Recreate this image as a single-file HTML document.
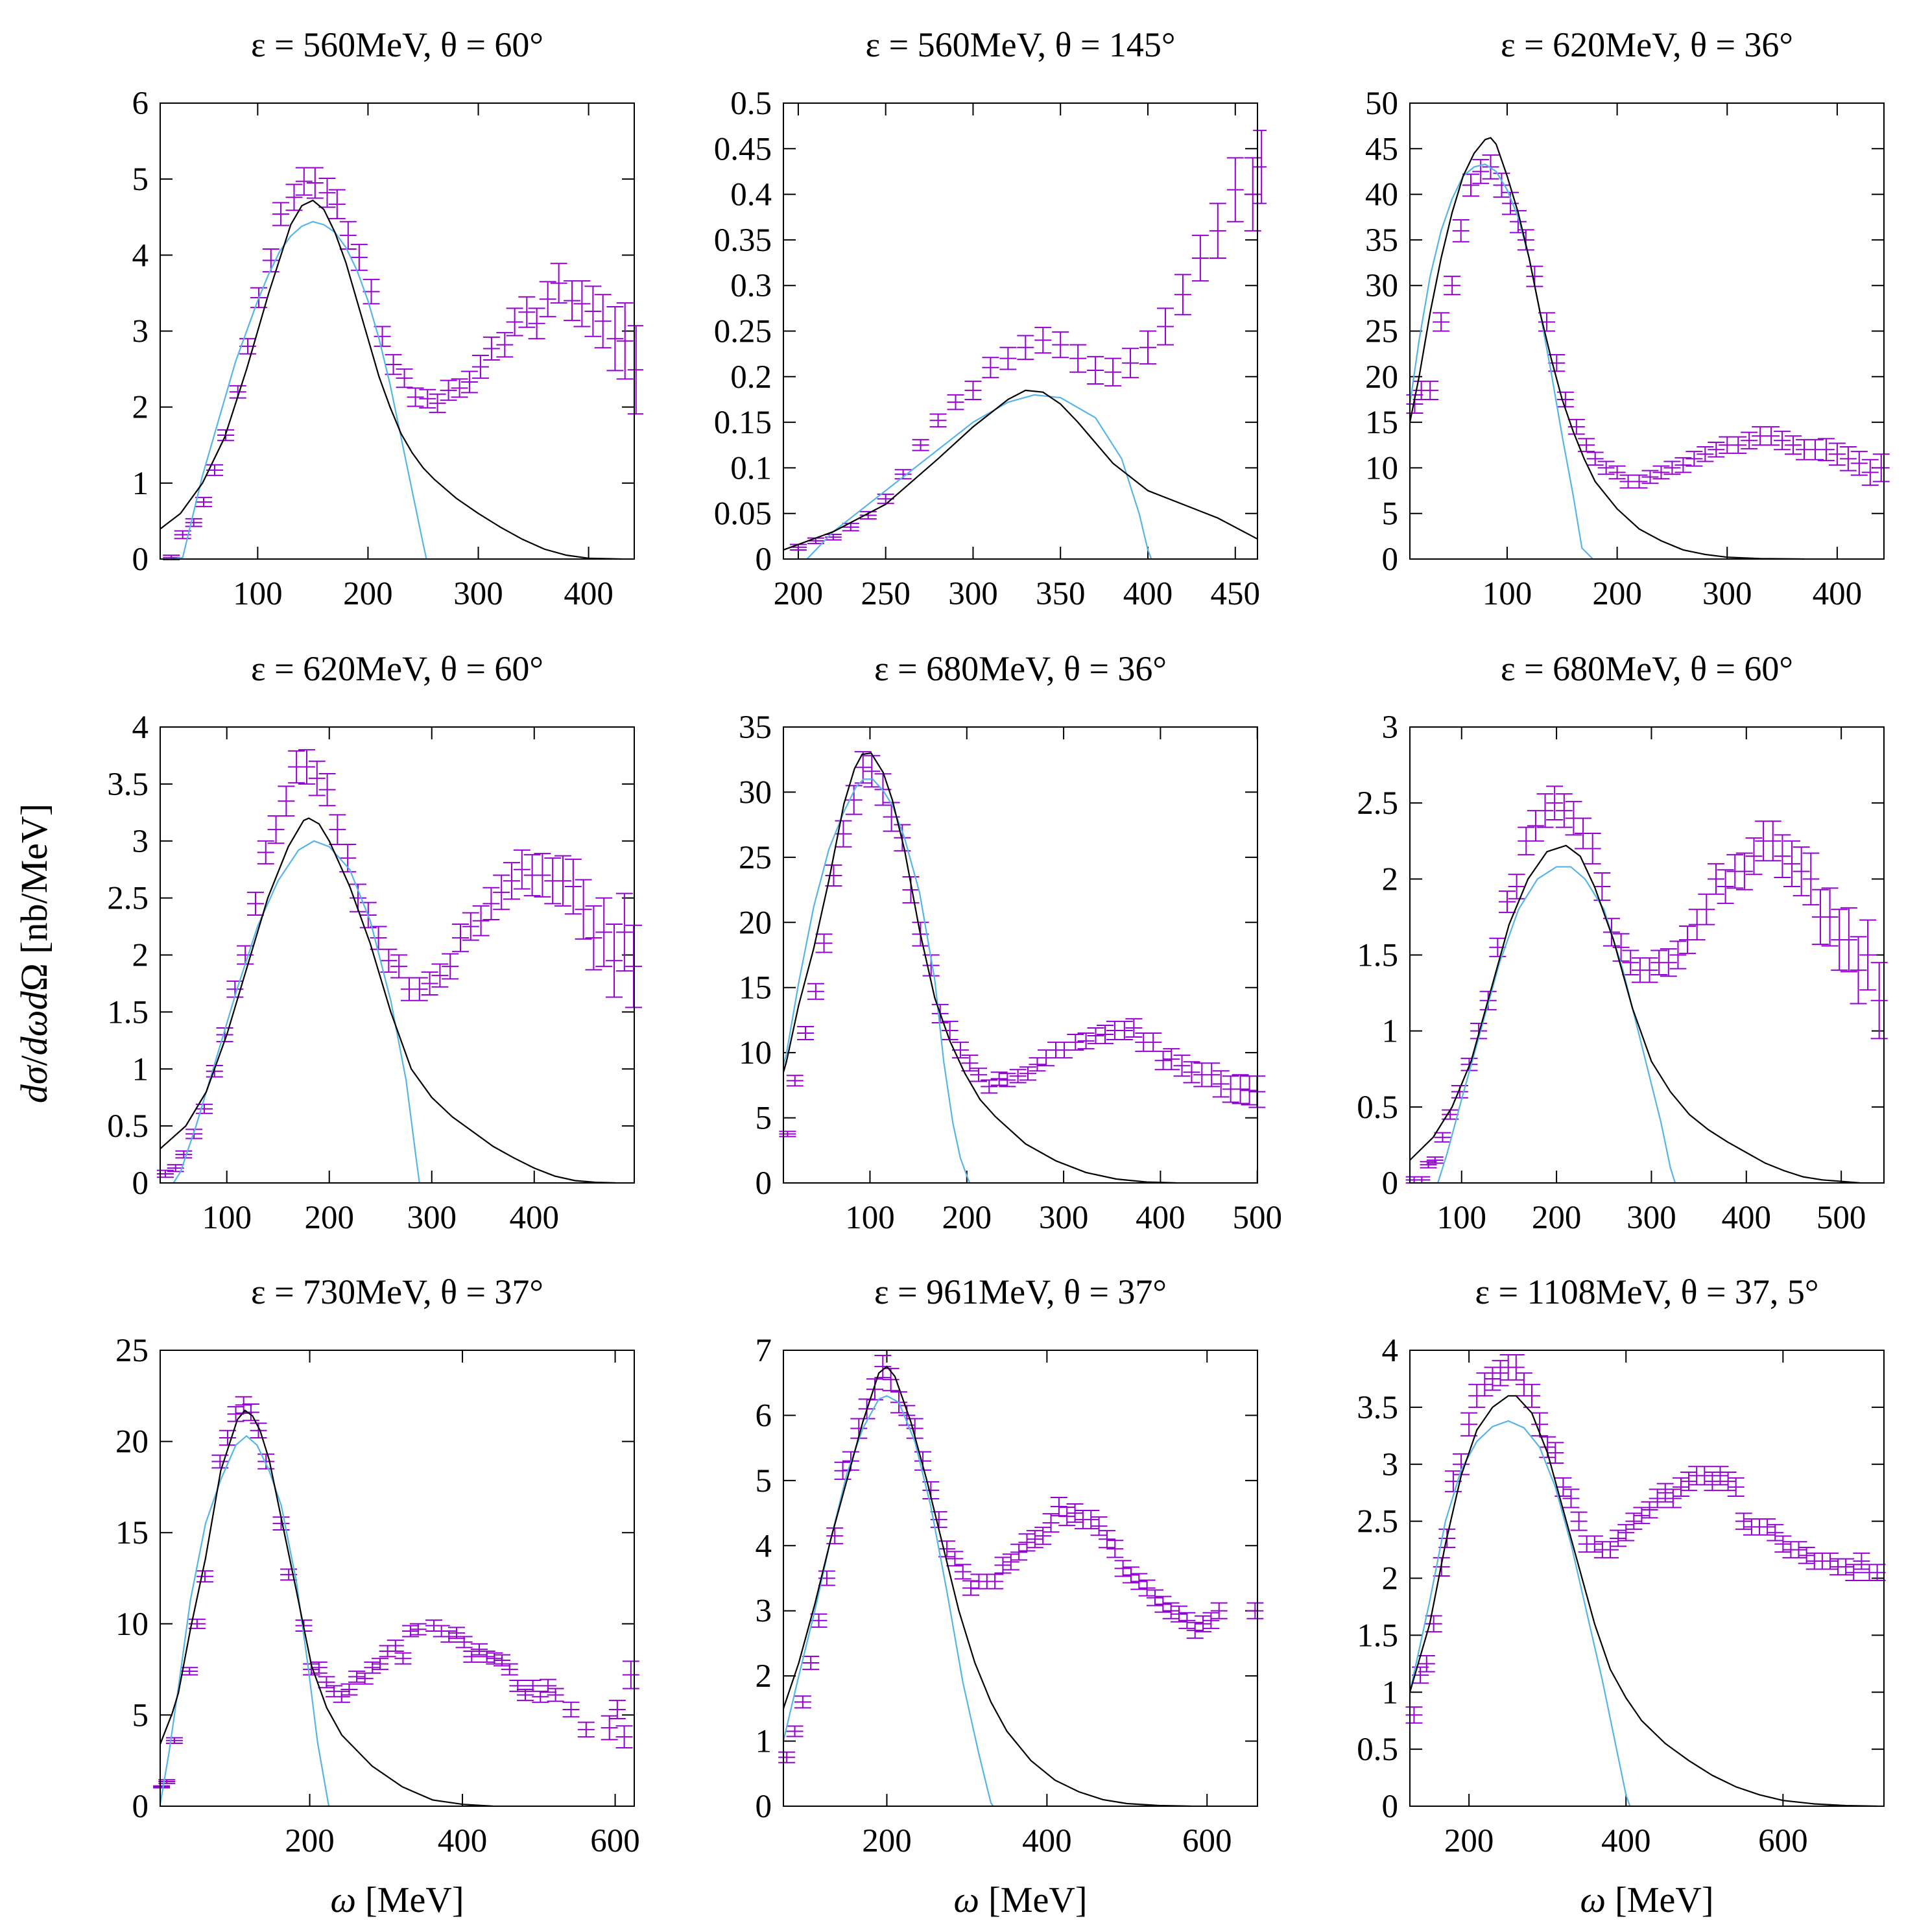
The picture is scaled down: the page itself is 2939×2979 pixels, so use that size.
<!DOCTYPE html>
<html><head><meta charset="utf-8"><style>
html,body{margin:0;padding:0;background:#fff;}
svg{display:block;font-family:"Liberation Serif",serif;}
</style></head><body>
<svg id="chart" width="2939" height="2979" viewBox="0 0 2939 2979" xmlns="http://www.w3.org/2000/svg">
<rect x="0" y="0" width="2939" height="2979" fill="#fff"/>
<text x="0" y="0" transform="translate(72,1470) rotate(-90)" text-anchor="middle" font-size="58" font-family="Liberation Serif,serif"><tspan font-style="italic">dσ</tspan>/<tspan font-style="italic">dωd</tspan>Ω [nb/MeV]</text>
</svg>
<script>
// ---- data (x = omega MeV, y = dsigma, e = error) ----
const titles = ["ε = 560MeV, θ = 60°","ε = 560MeV, θ = 145°","ε = 620MeV, θ = 36°","ε = 620MeV, θ = 60°","ε = 680MeV, θ = 36°","ε = 680MeV, θ = 60°","ε = 730MeV, θ = 37°","ε = 961MeV, θ = 37°","ε = 1108MeV, θ = 37, 5°"];
const xRanges = [[11.6,441.4],[191.5,462.7],[11.6,442.5],[35,497.6],[10.6,500.2],[45.5,545],[4.2,625],[70.8,663],[124.7,728.6]];
const yMax = [6,0.5,50,4,35,3,25,7,4];
const xTicks = [[100,200,300,400],[200,250,300,350,400,450],[100,200,300,400],[100,200,300,400],[100,200,300,400,500],[100,200,300,400,500],[200,400,600],[200,400,600],[200,400,600]];
const yTicks = [[0,1,2,3,4,5,6],[0,0.05,0.1,0.15,0.2,0.25,0.3,0.35,0.4,0.45,0.5],[0,5,10,15,20,25,30,35,40,45,50],[0,0.5,1,1.5,2,2.5,3,3.5,4],[0,5,10,15,20,25,30,35],[0,0.5,1,1.5,2,2.5,3],[0,5,10,15,20,25],[0,1,2,3,4,5,6,7],[0,0.5,1,1.5,2,2.5,3,3.5,4]];
const data1 = [[21.7,0.02,0.03],[32,0.32,0.05],[42,0.48,0.05],[51,0.75,0.06],[61,1.17,0.07],[71,1.63,0.07],[82,2.2,0.08],[91,2.8,0.1],[101,3.44,0.13],[112,3.93,0.15],[121,4.54,0.15],[133,4.76,0.17],[142,4.97,0.18],[152,4.95,0.2],[163,4.82,0.19],[172,4.67,0.19],[182,4.26,0.18],[192,3.97,0.17],[203,3.52,0.16],[213,2.93,0.13],[223,2.56,0.13],[233,2.38,0.12],[243,2.13,0.12],[254,2.11,0.12],[263,2.05,0.12],[273,2.22,0.13],[283,2.25,0.12],[292,2.33,0.14],[302,2.53,0.15],[312,2.77,0.15],[324,2.82,0.16],[333,3.12,0.18],[344,3.25,0.2],[353,3.1,0.2],[363,3.42,0.23],[373,3.63,0.26],[385,3.4,0.26],[394,3.36,0.3],[404,3.26,0.33],[413,3.13,0.35],[424,2.9,0.42],[433,2.87,0.5],[443,2.49,0.58]];
const data2 = [[200,0.013,0.003],[210,0.02,0.003],[220,0.024,0.003],[230,0.035,0.004],[240,0.048,0.004],[250,0.066,0.005],[260,0.093,0.005],[270,0.125,0.006],[280,0.152,0.007],[290,0.172,0.008],[300,0.185,0.01],[310,0.21,0.011],[320,0.22,0.012],[330,0.232,0.013],[340,0.24,0.014],[350,0.235,0.014],[360,0.22,0.015],[370,0.207,0.015],[380,0.205,0.015],[390,0.215,0.016],[400,0.232,0.018],[410,0.255,0.02],[420,0.29,0.022],[430,0.33,0.025],[440,0.36,0.03],[450,0.405,0.035],[460,0.4,0.04],[465,0.43,0.04]];
const data3 = [[16,17,1],[22,18.5,1],[30,18.5,1],[40,26,1],[50,30,1],[58,36,1.2],[67,41,1.2],[76,42.5,1.3],[85,43,1.3],[95,41,1.3],[103,39,1.2],[110,37,1.2],[117,35,1.1],[125,31,1.1],[136,26,1],[145,21.5,0.9],[153,17.5,0.8],[163,14.5,0.8],[172,12.5,0.7],[180,11,0.7],[190,10,0.7],[200,9.5,0.7],[210,8.5,0.7],[220,8.5,0.7],[230,9,0.7],[240,9.5,0.7],[250,10,0.7],[260,10.3,0.8],[270,11,0.8],[280,11.5,0.8],[290,12,0.8],[300,12.5,0.9],[310,12.5,0.9],[320,13,0.9],[330,13.5,1],[340,13.5,1],[350,13,1],[360,12.5,1],[370,12,1.1],[380,12,1.1],[390,12,1.2],[400,11.5,1.2],[410,11,1.3],[420,10.5,1.3],[430,9.5,1.4],[440,10,1.5]];
const data4 = [[40,0.08,0.03],[50,0.13,0.03],[58,0.25,0.03],[68,0.43,0.04],[78,0.65,0.04],[88,0.98,0.05],[98,1.3,0.06],[108,1.7,0.07],[118,2.0,0.08],[128,2.45,0.1],[138,2.9,0.1],[148,3.1,0.12],[158,3.35,0.13],[168,3.65,0.14],[178,3.65,0.15],[188,3.55,0.15],[198,3.45,0.14],[208,3.1,0.13],[218,2.85,0.12],[228,2.5,0.12],[238,2.35,0.11],[248,2.15,0.1],[258,1.95,0.1],[268,1.9,0.1],[278,1.7,0.1],[288,1.7,0.1],[298,1.75,0.1],[308,1.82,0.1],[318,1.9,0.11],[328,2.15,0.12],[338,2.25,0.12],[348,2.3,0.13],[358,2.45,0.14],[368,2.55,0.15],[378,2.65,0.16],[388,2.75,0.17],[398,2.7,0.18],[408,2.7,0.19],[418,2.65,0.2],[428,2.65,0.22],[438,2.6,0.24],[448,2.4,0.26],[458,2.15,0.28],[468,2.2,0.3],[478,1.95,0.32],[488,2.2,0.34],[497,1.9,0.36]];
const data5 = [[14.9,3.76,0.2],[22.5,7.85,0.4],[33.4,11.5,0.5],[44,14.7,0.6],[52.5,18.4,0.7],[62.5,23.6,0.8],[72.5,26.8,1],[83.4,29.4,1.1],[92.8,31.9,1.2],[101.9,31.6,1.2],[113.4,30.2,1.2],[122.2,28.1,1.1],[133.4,26.5,1],[142.2,22.5,1],[152.2,19.1,0.9],[163.1,16.7,0.8],[172.5,13.0,0.7],[182.5,11.7,0.7],[193.4,10.2,0.6],[203.1,9.2,0.6],[212.2,8.3,0.5],[223.1,7.4,0.5],[233.4,8.0,0.5],[241.9,7.9,0.5],[252.8,8.2,0.5],[263.1,8.4,0.5],[272.8,9.1,0.5],[281.9,9.6,0.6],[291.9,10.2,0.6],[300.6,10.2,0.6],[312.2,10.8,0.6],[323.1,10.9,0.6],[333.1,11.3,0.6],[342.8,11.4,0.7],[352.8,11.7,0.7],[362.8,11.7,0.7],[372.5,11.9,0.7],[382.5,10.8,0.7],[392.5,10.8,0.7],[402.8,9.4,0.7],[411.3,9.5,0.8],[422.2,9.0,0.8],[432.2,8.5,0.8],[442.8,8.3,0.9],[452.8,8.3,0.9],[462.5,7.6,1],[472.5,7.2,1],[482.5,7.2,1.1],[491.9,7.1,1.1],[499.7,7.0,1.2]];
const data6 = [[50,0.02,0.02],[58,0.02,0.02],[65,0.12,0.02],[72,0.15,0.02],[80,0.3,0.03],[88,0.45,0.03],[98,0.6,0.04],[108,0.78,0.04],[118,1.0,0.05],[128,1.2,0.06],[138,1.55,0.06],[148,1.85,0.07],[158,1.95,0.08],[168,2.25,0.09],[178,2.35,0.1],[188,2.45,0.11],[198,2.5,0.11],[208,2.45,0.11],[218,2.4,0.11],[228,2.3,0.1],[238,2.2,0.1],[248,1.95,0.09],[258,1.65,0.09],[268,1.55,0.09],[278,1.45,0.08],[288,1.4,0.08],[298,1.4,0.08],[308,1.45,0.08],[318,1.45,0.09],[328,1.5,0.09],[338,1.6,0.09],[348,1.7,0.1],[358,1.8,0.1],[368,2.0,0.1],[378,1.95,0.11],[388,2.05,0.11],[398,2.05,0.12],[408,2.15,0.12],[418,2.25,0.13],[428,2.25,0.13],[438,2.15,0.14],[448,2.1,0.15],[458,2.05,0.16],[468,2.0,0.17],[478,1.75,0.18],[488,1.75,0.19],[498,1.6,0.2],[508,1.6,0.21],[518,1.4,0.22],[528,1.5,0.23],[540,1.2,0.25]];
const data7 = [[6,1.06,0.05],[12.9,1.35,0.1],[22.8,3.6,0.15],[42.6,7.4,0.2],[52.5,10,0.25],[62.8,12.6,0.3],[82.6,18.9,0.35],[92.5,20.2,0.4],[103.2,21.5,0.4],[113.5,22.0,0.45],[123,21.6,0.45],[132.9,20.6,0.4],[142.8,18.9,0.4],[162.6,15.5,0.35],[172.5,12.7,0.3],[192.3,9.9,0.3],[202.2,7.5,0.3],[212.1,7.6,0.3],[222,6.8,0.3],[231.9,6.3,0.3],[241.8,6.0,0.3],[251.7,6.4,0.3],[261.6,7.1,0.3],[272.3,7.0,0.3],[282.2,7.6,0.3],[292.1,7.8,0.3],[302,8.5,0.3],[312.3,8.8,0.3],[322.2,8.1,0.3],[332.1,9.6,0.3],[342,9.7,0.3],[362.6,9.9,0.3],[372.5,9.6,0.3],[382.4,9.3,0.3],[392.3,9.5,0.3],[402.2,9.0,0.3],[412.1,8.2,0.3],[422,8.6,0.3],[432,8.2,0.3],[441.9,8.1,0.3],[451.8,8.0,0.3],[461.7,7.5,0.3],[472.4,6.6,0.3],[482.3,6.1,0.3],[492.2,6.6,0.3],[502.1,6.0,0.3],[512,6.6,0.35],[521.9,6.1,0.35],[542.2,5.3,0.4],[562,4.2,0.4],[592.5,4.3,0.65],[602.8,5.3,0.5],[611.9,3.8,0.6],[620.6,7.2,0.75]];
const data8 = [[75,0.75,0.08],[85,1.15,0.08],[95,1.6,0.09],[105,2.2,0.1],[115,2.85,0.1],[125,3.5,0.11],[135,4.15,0.12],[145,5.15,0.13],[155,5.3,0.14],[165,5.8,0.15],[175,6.1,0.15],[185,6.4,0.16],[195,6.75,0.17],[205,6.55,0.17],[215,6.2,0.16],[225,6.0,0.15],[235,5.8,0.15],[245,5.3,0.14],[255,4.85,0.13],[265,4.4,0.12],[275,3.95,0.12],[285,3.8,0.11],[295,3.6,0.11],[305,3.35,0.11],[315,3.45,0.11],[325,3.45,0.11],[335,3.45,0.11],[345,3.7,0.12],[355,3.75,0.12],[365,3.9,0.12],[375,4.05,0.13],[385,4.1,0.13],[395,4.15,0.13],[405,4.35,0.14],[415,4.6,0.14],[425,4.45,0.14],[435,4.5,0.14],[445,4.4,0.14],[455,4.4,0.14],[465,4.3,0.14],[475,4.1,0.13],[485,3.95,0.13],[495,3.65,0.12],[505,3.55,0.12],[515,3.45,0.12],[525,3.35,0.12],[535,3.2,0.12],[545,3.1,0.12],[555,3.0,0.12],[565,2.95,0.12],[575,2.85,0.12],[585,2.7,0.12],[595,2.8,0.12],[605,2.85,0.12],[615,3.0,0.12],[660,3.0,0.12]];
const data9 = [[130,0.8,0.07],[138,1.15,0.07],[146,1.25,0.07],[155,1.6,0.07],[165,2.1,0.08],[172,2.35,0.08],[180,2.85,0.09],[190,3.0,0.09],[200,3.35,0.1],[210,3.6,0.1],[220,3.7,0.1],[230,3.75,0.1],[240,3.8,0.11],[250,3.85,0.11],[260,3.85,0.11],[270,3.7,0.1],[280,3.6,0.1],[290,3.35,0.1],[300,3.15,0.09],[310,3.1,0.09],[320,2.8,0.08],[330,2.7,0.08],[340,2.5,0.08],[350,2.3,0.07],[360,2.3,0.07],[370,2.25,0.07],[380,2.25,0.07],[390,2.35,0.07],[400,2.4,0.07],[410,2.5,0.07],[420,2.55,0.07],[430,2.6,0.07],[440,2.7,0.08],[450,2.75,0.08],[460,2.7,0.08],[470,2.8,0.08],[480,2.85,0.08],[490,2.9,0.08],[500,2.9,0.08],[510,2.85,0.08],[520,2.9,0.08],[530,2.85,0.08],[540,2.8,0.08],[550,2.5,0.07],[560,2.45,0.07],[570,2.45,0.07],[580,2.45,0.07],[590,2.4,0.07],[600,2.3,0.07],[610,2.25,0.07],[620,2.25,0.07],[630,2.2,0.07],[640,2.15,0.07],[650,2.15,0.07],[660,2.15,0.07],[670,2.1,0.07],[680,2.1,0.07],[690,2.05,0.07],[700,2.15,0.07],[710,2.05,0.07],[720,2.05,0.07]];
const black1 = [[12,0.4],[30,0.6],[50,1.0],[70,1.6],[90,2.5],[110,3.5],[130,4.4],[140,4.65],[150,4.72],[160,4.6],[170,4.3],[180,3.9],[190,3.4],[200,2.9],[210,2.4],[220,2.0],[230,1.65],[240,1.4],[250,1.2],[260,1.05],[280,0.8],[300,0.6],[320,0.42],[340,0.26],[360,0.13],[380,0.05],[400,0.01],[430,0]];
const blue1 = [[22,0],[32,0.02],[40,0.5],[50,1.1],[60,1.6],[70,2.1],[80,2.6],[90,3.0],[100,3.4],[110,3.75],[120,4.05],[130,4.25],[140,4.38],[150,4.44],[160,4.4],[170,4.3],[180,4.1],[190,3.8],[200,3.4],[210,2.9],[220,2.3],[230,1.6],[240,0.9],[250,0.2],[253,0]];
const black2 = [[191.5,0.01],[220,0.03],[250,0.06],[280,0.11],[300,0.145],[320,0.175],[330,0.185],[340,0.183],[350,0.17],[360,0.15],[380,0.105],[400,0.075],[420,0.06],[440,0.045],[462.7,0.022]];
const blue2 = [[205,0],[220,0.03],[250,0.075],[280,0.12],[300,0.15],[320,0.172],[335,0.18],[350,0.177],[370,0.155],[385,0.11],[395,0.05],[400,0.01],[402,0]];
const black3 = [[11.6,15],[20,20],[30,27],[40,33],[50,38],[60,42],[70,44.5],[80,46],[85,46.2],[90,45.5],[100,42],[110,38],[120,33],[130,27],[140,22],[150,17.5],[160,14],[170,11],[180,8.5],[200,5.5],[220,3.3],[240,2],[260,1],[280,0.5],[300,0.2],[330,0.05],[370,0]];
const blue3 = [[11.6,17],[20,24],[30,31],[40,36],[50,39.5],[60,42],[70,43],[80,43.3],[90,42.5],[100,40.5],[110,37.5],[120,33],[130,27],[140,20.5],[150,13.5],[160,7],[168,1.2],[178,0]];
const black4 = [[35,0.3],[60,0.5],[80,0.8],[100,1.3],[120,1.9],[140,2.5],[160,2.95],[175,3.18],[180,3.2],[190,3.15],[200,3.0],[220,2.6],[240,2.1],[260,1.5],[280,1.0],[300,0.75],[320,0.58],[340,0.45],[360,0.32],[380,0.22],[400,0.13],[420,0.06],[440,0.02],[460,0.005],[480,0]];
const blue4 = [[48,0],[55,0.1],[70,0.5],[90,1.1],[110,1.7],[130,2.25],[150,2.65],[170,2.92],[185,3.0],[200,2.95],[220,2.75],[240,2.3],[260,1.6],[275,0.9],[285,0.2],[288,0]];
const black5 = [[10.6,8.5],[13.7,9.3],[26.2,13.6],[41.9,18],[57.5,23.2],[73.1,29.1],[84,31.8],[91.9,32.9],[101.2,33],[113.7,31.5],[123.1,29.4],[135.6,25.6],[151.2,19.4],[166.9,14.2],[182.5,10.9],[198.1,8.4],[213.7,6.4],[229.4,5.1],[260.6,3.0],[291.9,1.7],[323.1,0.8],[354.4,0.3],[385.6,0.07],[417,0]];
const blue5 = [[10.6,9.0],[13.7,9.9],[26.2,15.3],[41.9,21.2],[57.5,25.6],[73.1,28.5],[85.6,30.4],[93.4,31],[102.8,31],[113.7,30.1],[123.1,29],[135.6,26.5],[151.2,22.3],[166.9,15.6],[176.2,9.3],[185.6,4.6],[193.4,1.9],[202.8,0]];
const black6 = [[45.5,0.15],[70,0.3],[90,0.5],[110,0.8],[130,1.25],[150,1.7],[170,2.0],[190,2.18],[210,2.22],[225,2.15],[240,1.95],[260,1.6],[280,1.15],[300,0.8],[320,0.6],[340,0.45],[360,0.35],[380,0.27],[400,0.2],[420,0.13],[440,0.08],[460,0.04],[480,0.02],[500,0.01],[520,0]];
const blue6 = [[75,0],[85,0.2],[100,0.55],[120,1.0],[140,1.45],[160,1.8],[180,2.0],[200,2.08],[215,2.08],[230,2.0],[250,1.8],[270,1.4],[290,0.9],[310,0.4],[320,0.1],[325,0]];
const black7 = [[4.2,3.4],[20,5.1],[28,6.2],[43.8,9.7],[63.6,13.6],[83.5,18.4],[105.3,21.2],[115.2,21.7],[125.1,21.4],[135,20.6],[146.9,19.0],[162.7,15.8],[182.6,11.8],[202.4,7.7],[222.2,5.4],[242,3.9],[281.7,2.2],[321.3,1.06],[361,0.34],[400.6,0.1],[440.2,0]];
const blue7 = [[4.2,0.1],[16,3.0],[28,6.5],[43.8,11.3],[63.6,15.5],[83.5,17.9],[103.3,19.8],[117.2,20.3],[131,19.8],[146.9,18.4],[162.7,16.5],[182.6,12.3],[198.4,7.5],[210.3,3.5],[225,0]];
const black8 = [[70.8,1.5],[90,2.2],[110,3.1],[130,4.1],[150,5.0],[170,5.9],[190,6.65],[200,6.75],[210,6.6],[230,5.9],[250,5.0],[270,4.0],[290,3.0],[310,2.2],[330,1.6],[350,1.15],[380,0.7],[410,0.4],[440,0.22],[470,0.1],[500,0.04],[540,0.01],[580,0]];
const blue8 = [[70.8,1.0],[90,2.0],[110,3.0],[130,4.1],[150,5.1],[170,5.8],[190,6.25],[200,6.3],[215,6.2],[235,5.6],[255,4.6],[275,3.3],[295,1.9],[315,0.8],[330,0.05],[333,0]];
const black9 = [[124.7,1.0],[150,1.6],[170,2.3],[190,2.9],[210,3.3],[230,3.5],[250,3.6],[260,3.6],[280,3.45],[300,3.1],[320,2.6],[340,2.1],[360,1.6],[380,1.2],[400,0.95],[420,0.75],[450,0.55],[480,0.4],[510,0.27],[540,0.17],[570,0.1],[600,0.05],[640,0.02],[680,0.005],[720,0]];
const blue9 = [[124.7,1.0],[150,1.8],[170,2.5],[190,2.95],[210,3.2],[230,3.33],[250,3.38],[270,3.32],[290,3.15],[310,2.8],[330,2.3],[350,1.7],[370,1.1],[385,0.6],[400,0.1],[405,0]];

const datas = [data1,data2,data3,data4,data5,data6,data7,data8,data9];
const blacks = [black1,black2,black3,black4,black5,black6,black7,black8,black9];
const blues = [blue1,blue2,blue3,blue4,blue5,blue6,blue7,blue8,blue9];

const NS = "http://www.w3.org/2000/svg";
const svg = document.getElementById('chart');
const colL = [247,1208,2174], colW = 731;
const rowT = [159,1121,2082], rowH = 703;
function mk(tag, attrs, parent){const e=document.createElementNS(NS,tag);for(const k in attrs)e.setAttribute(k,attrs[k]);(parent||svg).appendChild(e);return e;}
function fmt(v){return String(+v.toFixed(3));}

for(let p=0;p<9;p++){
  const L=colL[p%3], T=rowT[Math.floor(p/3)], W=colW, H=rowH;
  const [x0,x1]=xRanges[p], ym=yMax[p];
  const sx=v=>L+(v-x0)/(x1-x0)*W;
  const sy=v=>T+H-(v/ym)*H;
  const g=mk('g',{});
  
  
  const cp=mk('clipPath',{id:'clip'+p},g);
  mk('rect',{x:L-14,y:T-2,width:W+28,height:H+4},cp);
  const t=mk('text',{x:L+W/2,y:T-72,'text-anchor':'middle','font-size':54},g);
  t.textContent=titles[p];
  
  
  for(const v of xTicks[p]){
    const X=sx(v);
    const tk=mk('path',{d:`M${X},${T+H}v-19M${X},${T}v19`,stroke:'#000','stroke-width':2},g);
    
    
    const tl=mk('text',{x:X,y:T+H+70,'text-anchor':'middle','font-size':51},g);
    tl.textContent=fmt(v);
    
    
  }
  for(const v of yTicks[p]){
    const Y=sy(v);
    const tk=mk('path',{d:`M${L},${Y}h19M${L+W},${Y}h-19`,stroke:'#000','stroke-width':2},g);
    
    
    const tl=mk('text',{x:L-18,y:Y+17,'text-anchor':'end','font-size':51},g);
    tl.textContent=fmt(v);
    
    
  }
  const inner=mk('g',{'clip-path':`url(#clip${p})`},g);
  let d='';
  for(const [x,y,e] of datas[p]){
    const X=sx(x),Y=sy(y),Yt=sy(y+e),Yb=sy(y-e);
    d+=`M${X},${Yt}V${Yb}M${X-13},${Yt}h26M${X-13},${Yb}h26M${X-13},${Y}h26`;
  }
  const eb=mk('path',{d:d,stroke:'#9400d3','stroke-width':2,fill:'none'},inner);
  
  
  const bl=mk('polyline',{points:blues[p].map(q=>sx(q[0])+','+sy(q[1])).join(' '),stroke:'#56b4e9','stroke-width':2.2,fill:'none'},inner);
  
  
  const bk=mk('polyline',{points:blacks[p].map(q=>sx(q[0])+','+sy(q[1])).join(' '),stroke:'#000','stroke-width':2.2,fill:'none'},inner);
  
  
  const fr=mk('rect',{x:L,y:T,width:W,height:H,fill:'none',stroke:'#000','stroke-width':2},g);
  
  
  if(p>=6){
    const xl=mk('text',{x:L+W/2,y:2948,'text-anchor':'middle','font-size':56},g);
    xl.innerHTML='<tspan font-style="italic">ω</tspan> [MeV]';
    
    
  }
}
</script>
</body></html>
